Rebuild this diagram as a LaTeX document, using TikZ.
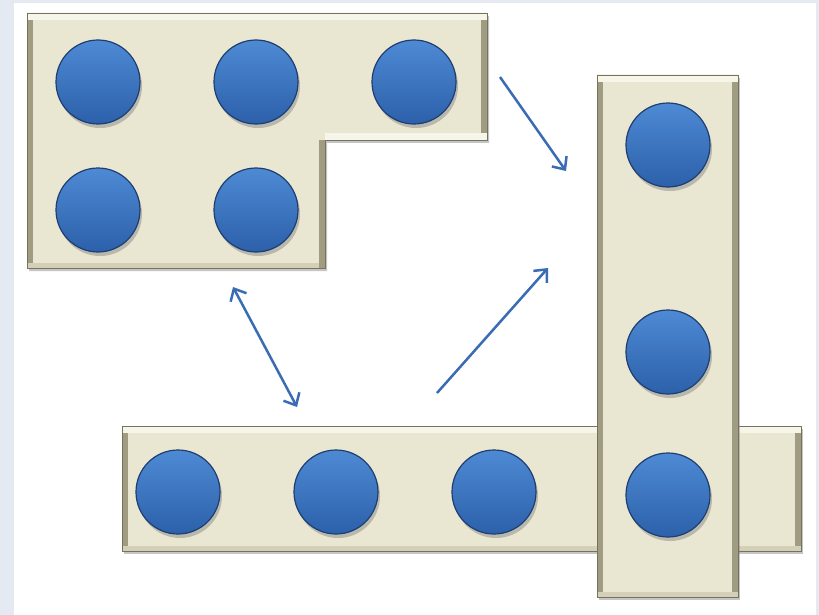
\documentclass[tikz,border=0pt]{standalone}
\usepackage{tikz}
\usetikzlibrary{positioning,shadows,arrows.meta}
\definecolor{pagebg}{RGB}{228,233,242}
\definecolor{trayfill}{RGB}{233,230,210}
\definecolor{traylight}{RGB}{246,245,234}
\definecolor{traymid}{RGB}{212,208,184}
\definecolor{traydark}{RGB}{160,156,130}
\definecolor{trayrim}{RGB}{118,114,92}
\definecolor{disctop}{RGB}{78,138,212}
\definecolor{discbottom}{RGB}{44,96,170}
\definecolor{discrim}{RGB}{30,62,112}
\definecolor{arrowblue}{RGB}{58,108,180}
\tikzset{node distance=158pt,
  tray/.style={fill=trayfill, draw=trayrim, line width=.8pt, inner sep=0pt, outer sep=0pt,
    drop shadow={opacity=.45, shadow xshift=2pt, shadow yshift=-3pt},
    path picture={
      \draw[traydark, line width=12pt] (path picture bounding box.north west) -- (path picture bounding box.south west)
        (path picture bounding box.north east) -- (path picture bounding box.south east);
      \draw[traylight, line width=14pt] (path picture bounding box.north west) -- (path picture bounding box.north east);
      \draw[traymid, line width=10pt] (path picture bounding box.south west) -- (path picture bounding box.south east);}},
  disc/.style={circle, minimum size=84pt, inner sep=0pt, draw=discrim, line width=1.2pt,
    top color=disctop, bottom color=discbottom,
    drop shadow={opacity=.45, shadow xshift=2pt, shadow yshift=-4pt}},
  link/.style={draw=arrowblue, line width=2.5pt, >={Straight Barb[length=10pt, width=18pt]}}
}
\begin{document}
\begin{tikzpicture}[x=1pt, y=-1pt]
  \useasboundingbox (0,0) rectangle (819,615);
  \fill[pagebg] (0,0) rectangle (819,615);
  \fill[white] (14,3) rectangle (816,615);

  % L-shaped tray
  \path[tray, save path=\trayLpath] (27,13) -| (487,140) -| (325,268) -- (27,268) -- cycle;
  \begin{scope}
    \path[use path=\trayLpath, clip];
    \draw[traylight, line width=14pt] (325,140) -- (487,140);
    \draw[traydark, line width=12pt] (325,140) -- (325,268);
  \end{scope}
  \draw[trayrim, line width=.8pt, use path=\trayLpath];

  % straight trays
  \node (bottomtray) [tray, minimum width=679pt, minimum height=125pt] at (461.5,488.5) {};
  \node (sidetray) [tray, minimum width=141pt, minimum height=522pt] at (667.5,336) {};

  % discs
  \node (a1) [disc] at (98,82) {};
  \node (a2) [disc, right of=a1] {};
  \node (a3) [disc, right of=a2] {};
  \node (a4) [disc, below of=a1, node distance=128pt] {};
  \node (a5) [disc, right of=a4] {};

  \node (b1) [disc] at (178,492) {};
  \node (b2) [disc, right of=b1] {};
  \node (b3) [disc, right of=b2] {};

  \node (c1) [disc] at (668,145) {};
  \node (c2) [disc] at (668,352) {};
  \node (c3) [disc] at (668,495) {};

  % arrows
  \coordinate (Lr) at (500,77);
  \coordinate (Sl) at (566,171);
  \coordinate (Bt) at (437,393);
  \coordinate (Sm) at (548,268);
  \coordinate (Lb) at (233,287);
  \coordinate (Bl) at (297,407);

  \draw[link, ->] (Lr) -- (Sl);
  \draw[link, ->] (Bt) -- (Sm);
  \draw[link, <->] (Lb) -- (Bl);
\end{tikzpicture}
\end{document}
